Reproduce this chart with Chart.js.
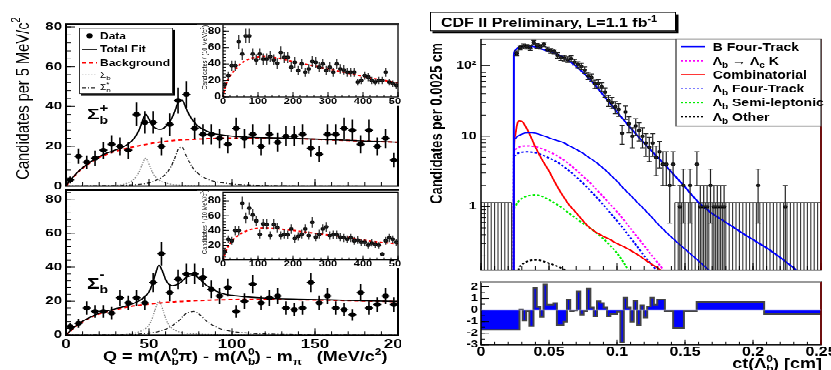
<!DOCTYPE html>
<html>
<head>
<meta charset="utf-8">
<title>Sigma_b signals and Lambda_b ct</title>
<script src="https://cdn.jsdelivr.net/npm/chart.js@4.4.1/dist/chart.umd.min.js"></script>
<style>
    html, body { margin: 0; padding: 0; background: #fff; overflow: hidden; }
    #page { position: relative; width: 831px; height: 481px; transform-origin: 0 0; }
    #leftFig { position: absolute; left: 0; top: 0; width: 401px; height: 481px; overflow: hidden; }
    canvas { position: absolute; }
</style>
</head>
<body>
<div id="page">
    <div id="leftFig">
        <canvas id="plusMain"></canvas>
        <canvas id="plusInset"></canvas>
        <canvas id="minusMain"></canvas>
        <canvas id="minusInset"></canvas>
    </div>
    <canvas id="ctMain"></canvas>
    <canvas id="ctPull"></canvas>
</div>
<script>
// --- DATA: Sigma_b panels, 5 MeV/c^2 bins ---

const qCenters = [2.5, 7.5, 12.5, 17.5, 22.5, 27.5, 32.5, 37.5, 42.5, 47.5, 52.5, 57.5, 62.5, 67.5, 72.5, 77.5, 82.5, 87.5, 92.5, 97.5,
    102.5, 107.5, 112.5, 117.5, 122.5, 127.5, 132.5, 137.5, 142.5, 147.5, 152.5, 157.5, 162.5, 167.5, 172.5, 177.5, 182.5, 187.5, 192.5, 197.5]
const plusCounts = [3, 15, 12, 14, 18, 21, 20, 18, 36, 32, 32, 20, 31, 43, 46, 29, 26, 26, 24, 21,
    29, 24, 26, 20, 26, 22, 25, 25, 26, 19, 16, 26, 26, 29, 28, 21, 28, 20, 24, 13]
const minusCounts = [5, 7, 16, 14, 14, 13, 22, 19, 22, 19, 31, 48, 25, 33, 36, 36, 34, 27, 23, 28,
    14, 20, 30, 19, 22, 23, 16, 15, 16, 31, 19, 23, 16, 15, 12, 25, 16, 18, 23, 18]

// fit curves
const fitQ = [0, 5, 10, 15, 20, 25, 30, 35, 38, 41, 44, 46, 48, 50, 52, 54, 56, 58, 60, 62, 64, 66, 68, 70, 72, 74, 77, 80, 85, 90, 95, 100, 110, 120, 140, 160, 180, 200]
const plusBackground = [0, 5, 9, 12, 14.5, 16.2, 17.5, 18.6, 19.2, 19.8, 20.3, 20.6, 20.9, 21.2, 21.5, 21.8, 22, 22.2, 22.4, 22.6,
    22.8, 23, 23.1, 23.2, 23.3, 23.4, 23.5, 23.6, 23.8, 23.9, 24, 24, 24, 24, 23.8, 23.2, 22.6, 22]
const plusSigmaB = [0.1, 0.1, 0.1, 0.1, 0.2, 0.2, 0.3, 0.9, 1.8, 3.5, 7, 11, 14, 11, 7, 4.5, 3, 2, 1.5, 1.1,
    0.8, 0.6, 0.5, 0.4, 0.35, 0.3, 0.25, 0.2, 0.15, 0.1, 0.1, 0.1, 0, 0, 0, 0, 0, 0]
const plusSigmaBStar = [0.1, 0.1, 0.1, 0.15, 0.2, 0.25, 0.3, 0.4, 0.5, 0.6, 0.8, 1, 1.2, 1.5, 2, 2.8, 3.5, 4.5, 6, 8,
    11, 15, 19, 19.5, 16, 12.5, 8.5, 6, 3.5, 2.2, 1.5, 1, 0.5, 0.3, 0.1, 0.1, 0, 0]
const plusTotalFit = [0.3, 5.2, 9.2, 12.3, 14.9, 16.7, 18.1, 19.9, 21.5, 23.9, 28.1, 32.6, 36.1, 33.7, 30.5, 29.1, 28.5, 28.7, 29.9, 31.7,
    34.6, 38.6, 42.6, 43.1, 39.7, 36.2, 32.3, 29.8, 27.5, 26.2, 25.6, 25.1, 24.5, 24.3, 23.9, 23.3, 22.6, 22]
const minusBackground = [0, 4.5, 8, 10.5, 12.5, 14, 15.2, 16.2, 16.7, 17.2, 17.6, 17.9, 18.1, 18.3, 18.5, 18.7, 18.9, 19.1, 19.3, 19.4,
    19.6, 19.7, 19.8, 19.9, 20, 20.1, 20.3, 20.4, 20.6, 20.8, 20.9, 21, 21.1, 21.1, 20.9, 20.6, 20.2, 19.8]
const minusSigmaB = [0.1, 0.1, 0.1, 0.1, 0.15, 0.2, 0.25, 0.3, 0.8, 1.2, 2, 2.8, 4, 6, 10, 16, 20, 16, 10, 6,
    4, 2.8, 2, 1.5, 1.2, 1, 0.8, 0.6, 0.4, 0.3, 0.2, 0.2, 0.1, 0, 0, 0, 0, 0]
const minusSigmaBStar = [0.1, 0.1, 0.1, 0.15, 0.2, 0.2, 0.25, 0.3, 0.3, 0.4, 0.6, 0.8, 1, 1.2, 1.5, 1.8, 2.2, 2.8, 3.5, 4.5,
    5.5, 7, 8.5, 10.5, 12.5, 13.5, 14, 12.5, 8, 5, 3.2, 2.2, 1.2, 0.7, 0.3, 0.2, 0.1, 0.1]
const minusTotalFit = [0.2, 4.7, 8.2, 10.7, 12.9, 14.4, 15.7, 16.8, 17.8, 18.8, 20.2, 21.5, 23.1, 25.5, 30, 36.5, 41.1, 37.9, 32.8, 29.9,
    29.1, 29.5, 30.3, 31.9, 33.7, 34.6, 35.1, 33.5, 29, 26.1, 24.3, 23.4, 22.4, 21.8, 21.2, 20.8, 20.3, 19.9]

// --- DATA: insets, 10 MeV/c^2 bins ---

const insetQ = [5, 15, 25, 35, 45, 55, 65, 75, 85, 95, 105, 115, 125, 135, 145, 155, 165, 175, 185, 195,
    205, 215, 225, 235, 245, 255, 265, 275, 285, 295, 305, 315, 325, 335, 345, 355, 365, 375, 385, 395,
    405, 415, 425, 435, 445, 455, 465, 475, 485, 495]
const insetPlusCounts = [15, 26, 38, 38, 67, 52, 74, 74, 52, 45, 52, 46, 46, 49, 45, 41, 54, 48, 48, 36,
    42, 32, 40, 30, 34, 43, 42, 36, 40, 32, 36, 30, 40, 34, 33, 30, 30, 30, 18, 20,
    26, 24, 20, 18, 20, 20, 30, 18, 16, 14]
const insetMinusCounts = [11, 28, 26, 40, 40, 77, 57, 70, 61, 53, 35, 49, 48, 33, 48, 44, 33, 35, 34, 42,
    29, 32, 35, 42, 33, 51, 31, 35, 42, 45, 33, 34, 34, 31, 30, 28, 30, 26, 27, 24,
    24, 20, 23, 21, 20, 8, 26, 30, 28, 24]
const insetFitQ = [0, 5, 10, 20, 30, 40, 50, 60, 80, 100, 120, 150, 200, 250, 300, 350, 400, 450, 500]
const insetPlusBackground = [0, 10, 17, 25, 31, 36, 40, 43, 47, 48.5, 49, 47.5, 43, 38.5, 34, 29.5, 25, 21, 17]
const insetMinusBackground = [0, 8, 14, 22, 28, 32, 35.5, 38, 41.5, 43, 43.5, 42.5, 40, 37, 34, 31, 27, 24, 22]

// --- DATA: Lambda_b ct, 0.0025 cm bins (empty bins left out) ---

const ctCenters = [0.02625, 0.02875, 0.03125, 0.03375, 0.03625, 0.03875, 0.04125, 0.04375, 0.04625, 0.04875,
    0.05125, 0.05375, 0.05625, 0.05875, 0.06125, 0.06375, 0.06625, 0.06875, 0.07125, 0.07375,
    0.07625, 0.07875, 0.08125, 0.08375, 0.08625, 0.08875, 0.09125, 0.09375, 0.09625, 0.09875,
    0.10125, 0.10375, 0.10625, 0.10875, 0.11125, 0.11375, 0.11625, 0.11875, 0.12125, 0.12375,
    0.12625, 0.12875, 0.13125, 0.13375, 0.13625, 0.13875, 0.14125, 0.14625, 0.14875, 0.15375,
    0.15875, 0.16125, 0.16375, 0.16625, 0.16875, 0.17125, 0.17375, 0.17625, 0.17875, 0.20375, 0.22375]
const ctCounts = [150, 182, 190, 186, 178, 214, 192, 186, 200, 170,
    163, 160, 140, 130, 128, 122, 126, 112, 104, 98,
    87, 72, 68, 55, 56, 50, 42, 32, 30, 26,
    24, 11, 22, 15, 10, 14, 12, 10, 8, 7,
    8, 5, 6, 4, 4, 2, 4, 1, 2, 2,
    4, 1, 1, 1, 2, 1, 1, 1, 1, 2, 1]

// fit components
const ctGrid = [0.024, 0.0242, 0.025, 0.0265, 0.028, 0.03, 0.0325, 0.035, 0.0375, 0.04, 0.045, 0.05, 0.055, 0.06, 0.065,
    0.07, 0.075, 0.08, 0.085, 0.09, 0.095, 0.1, 0.105, 0.11, 0.115, 0.12, 0.125, 0.13, 0.14, 0.15,
    0.16, 0.17, 0.18, 0.19, 0.2, 0.21, 0.22, 0.23, 0.24]
const ctTotalFit = [0.05, 140, 165, 176, 182, 186, 189, 190, 188, 184, 172, 160, 148, 133, 116,
    98, 80, 64, 50, 38, 29, 22, 17, 13, 10.2, 8, 6.3, 5, 3.1, 1.9,
    1.15, 0.8, 0.6, 0.45, 0.34, 0.26, 0.19, 0.135, 0.095]
const bFourTrack = [0.05, 8.5, 9.2, 9.8, 10.3, 10.7, 11.1, 11.2, 11.2, 11, 10.3, 9.5, 8.8, 8.2, 7.3,
    6.5, 5.7, 4.9, 4.2, 3.5, 2.85, 2.3, 1.8, 1.45, 1.15, 0.92, 0.73, 0.57, 0.37, 0.25,
    0.17, 0.115, 0.08, null, null, null, null, null, null]
const lbToLcK = [0.05, 5.8, 6.4, 6.8, 7, 7.2, 7.3, 7.3, 7.2, 7.1, 6.6, 6, 5.4, 4.7, 4,
    3.3, 2.7, 2.2, 1.75, 1.38, 1.08, 0.85, 0.65, 0.49, 0.37, 0.28, 0.21, 0.16, 0.09, null,
    null, null, null, null, null, null, null, null, null]
const combinatorial = [0.05, 5, 10, 14.5, 16.5, 16.3, 14, 11.5, 9, 7, 4.6, 3.2, 2.1, 1.45, 1.05,
    0.82, 0.63, 0.5, 0.43, 0.38, 0.34, 0.3, 0.27, 0.24, 0.21, 0.18, 0.155, 0.135, 0.1, null,
    null, null, null, null, null, null, null, null, null]
const lbFourTrack = [0.05, 4.8, 5.3, 5.6, 5.8, 5.9, 6, 6, 5.9, 5.8, 5.4, 4.9, 4.4, 3.8, 3.2,
    2.65, 2.15, 1.72, 1.36, 1.06, 0.82, 0.63, 0.48, 0.36, 0.27, 0.2, 0.155, 0.12, 0.07, null,
    null, null, null, null, null, null, null, null, null]
const lbSemiLeptonic = [0.05, 0.9, 1, 1.12, 1.22, 1.3, 1.38, 1.43, 1.46, 1.47, 1.4, 1.25, 1.1, 0.95, 0.8,
    0.68, 0.58, 0.5, 0.42, 0.35, 0.28, 0.22, 0.16, 0.11, null, null, null, null, null, null,
    null, null, null, null, null, null, null, null, null]
const lbOther = [null, null, null, 0.1, 0.135, 0.15, 0.162, 0.17, 0.174, 0.175, 0.17, 0.158, 0.145, 0.132, 0.12,
    null, null, null, null, null, null, null, null, null, null, null, null, null, null, null,
    null, null, null, null, null, null, null, null, null]

// hatched empty-bin regions
const ctBinWidth = 0.0025
const hatchLevel = 1.15
const hatchRanges = [[0, 0.0225], [0.1425, 0.25]]

// fit residuals, variable bins
const pullEdges = [0, 0.0283, 0.0307, 0.0332, 0.0356, 0.0386, 0.041, 0.0435, 0.046, 0.0484, 0.0533, 0.0558, 0.0607, 0.0632, 0.0656,
    0.0681, 0.0705, 0.073, 0.0755, 0.0779, 0.0804, 0.0829, 0.0853, 0.0878, 0.0902, 0.0927, 0.0951, 0.1, 0.1025, 0.105,
    0.1074, 0.1099, 0.1123, 0.1148, 0.1173, 0.1197, 0.1222, 0.1246, 0.1271, 0.1296, 0.1352, 0.1413, 0.1492, 0.1586, 0.2082, 0.25]
const pullValues = [-1.7, 0.05, -0.9, -0.1, -1.4, 1.9, 0.25, -0.6, 2.2, 0.45, 0.6, -1.3, -1, 0.9, -0.1,
    -0.05, 1.6, -0.4, -0.1, 1.85, 0.2, -0.55, 0.75, 0.6, 0.2, -0.55, -0.35, -0.15, -2.8, 1.05,
    0.2, -1, 0.8, -1.3, 0.4, -0.65, 0.3, 1.05, 0.45, 0.9, -0.1, -1.55, -0.1, 0.7, -0.35]

// --- AXIS TICKS ---

const qTicks = [0, 50, 100, 150, 200]
const countTicks = [0, 20, 40, 60, 80]
const insetQTicks = [0, 100, 200, 300, 400, 500]
const ctTicks = [0, 0.05, 0.1, 0.15, 0.2, 0.25]
const logTicks = [1, 10, 100]
const pullTicks = [-3, -2, -1, 0, 1, 2]

// --- LAYOUT HELPERS ---

// the picture is squashed vertically, so everything is laid out taller and scaled back
const S = 0.77
const u = y => y / S
const FONT = "'Liberation Sans', Arial, Helvetica, sans-serif"
document.getElementById('page').style.transform = `scaleY(${S})`
Chart.defaults.font.family = FONT

function font(size, bold){
    return (bold ? 'bold ' : '') + size + 'px ' + FONT
}

// text with sub/superscripts: parts = [{t, s, b, dy, stay}]
function rich(ctx, x, y, parts, align){
    let total = 0
    parts.forEach(p => {
        ctx.font = font(p.s, p.b)
        p.w = ctx.measureText(p.t).width
        if (!p.stay) total += p.w
    })
    let cx = x
    if (align === 'right') cx = x - total
    if (align === 'center') cx = x - total / 2
    parts.forEach(p => {
        ctx.font = font(p.s, p.b)
        ctx.fillText(p.t, cx, y + (p.dy || 0))
        if (!p.stay) cx += p.w
    })
}

function vtext(ctx, x, y, parts){
    ctx.save()
    ctx.translate(x, y)
    ctx.rotate(-Math.PI / 2)
    rich(ctx, 0, 0, parts, 'center')
    ctx.restore()
}

function sample(ctx, x0, x1, y, color, width, dash){
    ctx.save()
    ctx.strokeStyle = color
    ctx.lineWidth = width
    ctx.setLineDash(dash || [])
    ctx.beginPath()
    ctx.moveTo(x0, y)
    ctx.lineTo(x1, y)
    ctx.stroke()
    ctx.restore()
}

function textSetup(ctx){
    ctx.fillStyle = '#000'
    ctx.textAlign = 'left'
    ctx.textBaseline = 'alphabetic'
}

// --- PLUGINS ---

// ROOT style frame with inward ticks
const rootFrame = {
    id: 'rootFrame',
    afterDatasetsDraw(chart, args, o){
        const { ctx, chartArea: a, scales: { x, y } } = chart
        ctx.save()
        ctx.strokeStyle = '#000'
        ctx.lineWidth = 1
        ctx.beginPath()
        const xTicks = (step, len) => {
            for (let v = Math.ceil(x.min / step - 1e-6) * step; v <= x.max + 1e-9; v += step) {
                const px = x.getPixelForValue(v)
                ctx.moveTo(px, a.bottom)
                ctx.lineTo(px, a.bottom - len)
            }
        }
        const yTick = (v, len) => {
            const py = y.getPixelForValue(v)
            ctx.moveTo(a.left, py)
            ctx.lineTo(a.left + len, py)
        }
        xTicks(o.xMinor, o.xLen[1])
        xTicks(o.xMajor, o.xLen[0])
        if (o.logY) {
            for (let d = -1; d <= 2; d++) {
                for (let m = 1; m < 10; m++) {
                    const v = m * Math.pow(10, d)
                    if (v >= y.min && v <= y.max) yTick(v, m === 1 ? o.yLen[0] : o.yLen[1])
                }
            }
        } else {
            for (let v = Math.ceil(y.min / o.yMinor - 1e-6) * o.yMinor; v <= y.max + 1e-9; v += o.yMinor) yTick(v, o.yLen[1])
            for (let v = Math.ceil(y.min / o.yMajor - 1e-6) * o.yMajor; v <= y.max + 1e-9; v += o.yMajor) yTick(v, o.yLen[0])
        }
        ctx.stroke()

        ctx.lineWidth = o.width
        ctx.strokeRect(a.left, a.top, a.right - a.left, a.bottom - a.top)
        if (o.topColor) {
            ctx.strokeStyle = o.topColor
            ctx.lineWidth = o.width + 0.5
            ctx.beginPath()
            ctx.moveTo(a.left, a.top)
            ctx.lineTo(a.right, a.top)
            ctx.stroke()
        }
        if (o.rightColor) {
            ctx.strokeStyle = o.rightColor
            ctx.lineWidth = o.width
            ctx.beginPath()
            ctx.moveTo(a.right, a.top)
            ctx.lineTo(a.right, a.bottom)
            ctx.stroke()
        }
        ctx.restore()
    }
}

// sqrt(N) error bars for datasets that carry an errorBars setting
const errorBars = {
    id: 'errorBars',
    afterDatasetsDraw(chart){
        const { ctx, chartArea: a, scales: { x, y } } = chart
        ctx.save()
        ctx.beginPath()
        ctx.rect(a.left, a.top, a.right - a.left, a.bottom - a.top)
        ctx.clip()
        chart.data.datasets.forEach(ds => {
            const eb = ds.errorBars
            if (!eb) return
            ctx.strokeStyle = eb.color
            ctx.lineWidth = eb.width
            ctx.beginPath()
            ds.data.forEach(p => {
                const err = Math.sqrt(p.y)
                const px = x.getPixelForValue(p.x)
                const py = y.getPixelForValue(p.y)
                const top = y.getPixelForValue(p.y + err)
                const low = p.y - err
                const bottom = low > y.min ? y.getPixelForValue(low) : a.bottom + 2
                ctx.moveTo(px, top)
                ctx.lineTo(px, bottom)
                ctx.moveTo(x.getPixelForValue(p.x - eb.half), py)
                ctx.lineTo(x.getPixelForValue(p.x + eb.half), py)
                if (eb.cap) {
                    ctx.moveTo(px - eb.cap, top)
                    ctx.lineTo(px + eb.cap, top)
                    if (low > y.min) {
                        ctx.moveTo(px - eb.cap, bottom)
                        ctx.lineTo(px + eb.cap, bottom)
                    }
                }
            })
            ctx.stroke()
        })
        ctx.restore()
    }
}

// vertical hatching over the empty-bin regions of the ct plot
const hatch = {
    id: 'hatch',
    beforeDatasetsDraw(chart){
        const { ctx, chartArea: a, scales: { x, y } } = chart
        const top = y.getPixelForValue(hatchLevel)
        ctx.save()
        ctx.beginPath()
        ctx.rect(a.left, a.top, a.right - a.left, a.bottom - a.top)
        ctx.clip()
        ctx.strokeStyle = '#333'
        ctx.lineWidth = 1.1
        ctx.beginPath()
        hatchRanges.forEach(([lo, hi]) => {
            for (let v = lo; v <= hi + 1e-9; v += ctBinWidth) {
                const px = x.getPixelForValue(v)
                ctx.moveTo(px, a.bottom)
                ctx.lineTo(px, top)
            }
            ctx.moveTo(x.getPixelForValue(lo), top)
            ctx.lineTo(x.getPixelForValue(hi), top)
        })
        ctx.stroke()
        ctx.restore()
    }
}

function drawLeftLegend(ctx){
    const x0 = 79, x1 = 173, y0 = u(28), y1 = u(94)
    ctx.fillStyle = '#000'
    ctx.fillRect(x0 + 2, y0 + 2.5, x1 - x0, y1 - y0)
    ctx.fillStyle = '#fff'
    ctx.fillRect(x0, y0, x1 - x0, y1 - y0)
    ctx.strokeStyle = '#333'
    ctx.lineWidth = 1
    ctx.strokeRect(x0 + 0.5, y0 + 0.5, x1 - x0 - 1, y1 - y0 - 1)

    const rows = [u(35.7), u(49.3), u(62.7), u(75), u(87.7)]
    ctx.fillStyle = '#000'
    ctx.beginPath()
    ctx.arc(89.5, rows[0], 3.2, 0, 2 * Math.PI)
    ctx.fill()
    sample(ctx, 82, 97, rows[1], '#000', 1.6)
    sample(ctx, 82, 97, rows[2], '#ff0000', 2, [4, 3])
    sample(ctx, 82, 97, rows[3], '#888', 1.3, [1.5, 1.5])
    sample(ctx, 82, 97, rows[4], '#222', 1.3, [4, 2, 1, 2])

    textSetup(ctx)
    rich(ctx, 100, rows[0] + 4.3, [{ t: 'Data', s: 12, b: true }])
    rich(ctx, 100, rows[1] + 4.3, [{ t: 'Total Fit', s: 12, b: true }])
    rich(ctx, 100, rows[2] + 4.3, [{ t: 'Background', s: 12, b: true }])
    rich(ctx, 100, rows[3] + 3.5, [{ t: 'Σ', s: 10 }, { t: 'b', s: 8, dy: 3 }])
    rich(ctx, 100, rows[4] + 3.5, [{ t: 'Σ', s: 10 }, { t: 'b', s: 8, dy: 3, stay: true }, { t: '*', s: 8, dy: -5 }])
}

function drawCtLegend(ctx){
    const x0 = 261, x1 = 406, y0 = u(39), y1 = u(126)
    ctx.fillStyle = '#fff'
    ctx.fillRect(x0, y0, x1 - x0, y1 - y0)
    ctx.strokeStyle = '#555'
    ctx.lineWidth = 1.5
    ctx.strokeRect(x0, y0, x1 - x0, y1 - y0)

    const entries = [
        { color: '#0000ff', dash: [], parts: [{ t: 'B Four-Track' }] },
        { color: '#ff00ff', dash: [2, 2], parts: [{ t: 'Λ' }, { t: 'b', sub: true }, { t: ' → Λ' }, { t: 'c', sub: true }, { t: ' K' }] },
        { color: '#ff0000', dash: [], parts: [{ t: 'Combinatorial' }] },
        { color: '#0000ff', dash: [2, 2], parts: [{ t: 'Λ' }, { t: 'b', sub: true }, { t: ' Four-Track' }] },
        { color: '#00ee00', dash: [2, 2], parts: [{ t: 'Λ' }, { t: 'b', sub: true }, { t: ' Semi-leptonic' }] },
        { color: '#000', dash: [2, 2], parts: [{ t: 'Λ' }, { t: 'b', sub: true }, { t: ' Other' }] }
    ]
    entries.forEach((e, i) => {
        const cy = u(46.7 + 14 * i)
        sample(ctx, 266, 290, cy, e.color, 1.6, e.dash)
        textSetup(ctx)
        rich(ctx, 297.7, cy + 5, e.parts.map(p => p.sub ? { t: p.t, s: 10, b: true, dy: 4 } : { t: p.t, s: 14, b: true }))
    })
}

// --- CHART HELPERS ---

function makeChart(id, box, config){
    const canvas = document.getElementById(id)
    canvas.width = box.w
    canvas.height = box.h
    canvas.style.left = box.x + 'px'
    canvas.style.top = box.y + 'px'
    canvas.style.width = box.w + 'px'
    canvas.style.height = box.h + 'px'
    return new Chart(canvas, config)
}

function xAxis(o){
    return {
        type: 'linear', min: o.min, max: o.max,
        grid: { display: false, drawTicks: false },
        border: { display: false },
        afterBuildTicks: s => { s.ticks = o.ticks.map(v => ({ value: v })) },
        afterFit: s => { s.height = o.height },
        ticks: {
            display: o.show, padding: o.pad || 0, maxRotation: 0, autoSkip: false, color: '#000',
            font: { family: FONT, size: o.size || 12, weight: 'bold' },
            callback: v => String(v)
        }
    }
}

function yAxis(o){
    return {
        type: o.log ? 'logarithmic' : 'linear', min: o.min, max: o.max,
        grid: { display: false, drawTicks: false },
        border: { display: false },
        afterBuildTicks: s => { s.ticks = o.ticks.map(v => ({ value: v })) },
        afterFit: s => { s.width = o.width },
        ticks: {
            padding: o.pad, autoSkip: false, color: '#000',
            font: { family: FONT, size: o.size, weight: 'bold' },
            callback: o.label || (v => String(v))
        }
    }
}

function options(padding, x, y, frame){
    return {
        responsive: false,
        animation: false,
        devicePixelRatio: 1,
        events: [],
        layout: { padding },
        plugins: { legend: { display: false }, tooltip: { enabled: false }, rootFrame: frame },
        scales: { x, y }
    }
}

function pointsSet(xs, ys, radius, eb){
    return {
        data: xs.map((v, i) => ({ x: v, y: ys[i] })),
        showLine: false,
        pointRadius: radius,
        pointBackgroundColor: '#000',
        pointBorderWidth: 0,
        errorBars: eb
    }
}

function curveSet(xs, ys, color, width, dash){
    return {
        data: xs.map((v, i) => ({ x: v, y: ys[i] })),
        borderColor: color,
        borderWidth: width,
        borderDash: dash || [],
        pointRadius: 0,
        fill: false,
        spanGaps: false,
        cubicInterpolationMode: 'monotone'
    }
}

// --- LEFT FIGURE: Sigma_b+ ---

const plusBox = { x: 0, y: 0, w: 420, h: Math.ceil(u(186) + 14) }

const plusDecor = {
    id: 'plusDecor',
    afterDraw(chart){
        const ctx = chart.ctx
        ctx.save()
        textSetup(ctx)
        vtext(ctx, 29, u(98.5), [{ t: 'Candidates per 5 MeV/c', s: 19 }, { t: '2', s: 12, dy: -9 }])
        rich(ctx, 87, u(119.5), [
            { t: 'Σ', s: 21, b: true },
            { t: 'b', s: 14, b: true, dy: 6, stay: true },
            { t: '+', s: 15, b: true, dy: -10 }
        ])
        drawLeftLegend(ctx)
        ctx.restore()
    }
}

makeChart('plusMain', plusBox, {
    type: 'line',
    data: { datasets: [
        pointsSet(qCenters, plusCounts, 3.2, { half: 2.5, width: 1.6, color: '#000' }),
        curveSet(fitQ, plusTotalFit, '#000', 1.6),
        curveSet(fitQ, plusBackground, '#ff0000', 2, [4, 3]),
        curveSet(fitQ, plusSigmaB, '#888', 1.3, [1.5, 1.5]),
        curveSet(fitQ, plusSigmaBStar, '#222', 1.3, [4, 2, 1, 2])
    ]},
    options: options(
        { top: u(24), right: 22, left: 0, bottom: 0 },
        xAxis({ min: 0, max: 200, ticks: qTicks, height: plusBox.h - u(186), show: false }),
        yAxis({ min: 0, max: 81.5, ticks: countTicks, width: 66, size: 15, pad: 4 }),
        { xMajor: 50, xMinor: 10, yMajor: 20, yMinor: 4, xLen: [9, 5], yLen: [9, 5], width: 2 }
    ),
    plugins: [rootFrame, errorBars, plusDecor]
})

// --- LEFT FIGURE: Sigma_b- ---

const minusBox = { x: 0, y: u(190) - 15, w: 420, h: 249 }

const minusDecor = {
    id: 'minusDecor',
    afterDraw(chart){
        const ctx = chart.ctx
        const top = minusBox.y
        ctx.save()
        textSetup(ctx)
        rich(ctx, 87, u(288.5) - top, [
            { t: 'Σ', s: 21, b: true },
            { t: 'b', s: 14, b: true, dy: 6.5, stay: true },
            { t: '-', s: 15, b: true, dy: -14 }
        ])
        rich(ctx, 103, u(361) - top, [
            { t: 'Q = m(Λ', s: 18, b: true },
            { t: 'b', s: 12, b: true, dy: 5, stay: true },
            { t: '0', s: 12, b: true, dy: -8 },
            { t: 'π) - m(Λ', s: 18, b: true },
            { t: 'b', s: 12, b: true, dy: 5, stay: true },
            { t: '0', s: 12, b: true, dy: -8 },
            { t: ') - m', s: 18, b: true },
            { t: 'π', s: 12, b: true, dy: 5 },
            { t: '   (MeV/c', s: 18, b: true },
            { t: '2', s: 12, b: true, dy: -8 },
            { t: ')', s: 18, b: true }
        ])
        ctx.restore()
    }
}

makeChart('minusMain', minusBox, {
    type: 'line',
    data: { datasets: [
        pointsSet(qCenters, minusCounts, 3.2, { half: 2.5, width: 1.6, color: '#000' }),
        curveSet(fitQ, minusTotalFit, '#000', 1.6),
        curveSet(fitQ, minusBackground, '#ff0000', 2, [4, 3]),
        curveSet(fitQ, minusSigmaB, '#888', 1.3, [1.5, 1.5]),
        curveSet(fitQ, minusSigmaBStar, '#222', 1.3, [4, 2, 1, 2])
    ]},
    options: options(
        { top: 15, right: 22, left: 0, bottom: 0 },
        xAxis({ min: 0, max: 200, ticks: qTicks, height: minusBox.h - (u(335) - minusBox.y), show: true, size: 17, pad: 1.5 }),
        yAxis({ min: 0, max: 85.3, ticks: countTicks, width: 66, size: 15, pad: 4 }),
        { xMajor: 50, xMinor: 10, yMajor: 20, yMinor: 4, xLen: [9, 5], yLen: [9, 5], width: 2 }
    ),
    plugins: [rootFrame, errorBars, minusDecor]
})

// --- LEFT FIGURE: insets ---

function insetDecor(id, box, boxTop, boxBottom, titleY){
    return {
        id,
        beforeDraw(chart){
            const ctx = chart.ctx
            ctx.save()
            ctx.fillStyle = '#fff'
            ctx.fillRect(0, boxTop - box.y, chart.width, boxBottom - boxTop)
            ctx.restore()
        },
        afterDraw(chart){
            const ctx = chart.ctx
            ctx.save()
            textSetup(ctx)
            vtext(ctx, 10, titleY - box.y, [{ t: 'Candidates / (10 MeV/c', s: 7.5 }, { t: '2', s: 5, dy: -3.5 }, { t: ')', s: 7.5 }])
            ctx.restore()
        }
    }
}

function makeInset(id, box, plotTop, plotBottom, yMax, counts, background, decor){
    makeChart(id, box, {
        type: 'line',
        data: { datasets: [
            pointsSet(insetQ, counts, 2.4, { half: 5, width: 1.2, color: '#222' }),
            curveSet(insetFitQ, background, '#ff0000', 2, [3, 2.5])
        ]},
        options: options(
            { top: plotTop - box.y, right: box.w - (398 - box.x), left: 0, bottom: 0 },
            xAxis({ min: 0, max: 500, ticks: insetQTicks, height: box.h - (plotBottom - box.y), show: true, size: 11, pad: -1 }),
            yAxis({ min: 0, max: yMax, ticks: countTicks, width: 223 - box.x, size: 12, pad: 2 }),
            { xMajor: 100, xMinor: 20, yMajor: 20, yMinor: 4, xLen: [6, 3], yLen: [6, 3], width: 1.3 }
        ),
        plugins: [decor, rootFrame, errorBars]
    })
}

const plusInsetBox = { x: 197, y: 20, w: 220, h: 120 }
makeInset('plusInset', plusInsetBox, u(25), u(97), 87.3, insetPlusCounts, insetPlusBackground,
    insetDecor('plusInsetDecor', plusInsetBox, u(24.5), u(106), u(57.5)))

const minusInsetBox = { x: 197, y: 236, w: 220, h: 116 }
makeInset('minusInset', minusInsetBox, u(192), u(260), 92.2, insetMinusCounts, insetMinusBackground,
    insetDecor('minusInsetDecor', minusInsetBox, u(190.8), u(268), u(222)))

// --- RIGHT FIGURE: ct distribution ---

const ctBox = { x: 415, y: 0, w: 432, h: Math.ceil(u(270) + 14) }

const ctDecor = {
    id: 'ctDecor',
    afterDraw(chart){
        const ctx = chart.ctx
        ctx.save()
        const tx0 = 15, tx1 = 261, ty0 = u(12), ty1 = u(31)
        ctx.fillStyle = '#000'
        ctx.fillRect(tx0 + 2.5, ty0 + 3, tx1 - tx0, ty1 - ty0)
        ctx.fillStyle = '#fff'
        ctx.fillRect(tx0, ty0, tx1 - tx0, ty1 - ty0)
        ctx.strokeStyle = '#000'
        ctx.lineWidth = 1
        ctx.strokeRect(tx0 + 0.5, ty0 + 0.5, tx1 - tx0 - 1, ty1 - ty0 - 1)
        textSetup(ctx)
        rich(ctx, 26, u(27.3), [{ t: 'CDF II Preliminary, L=1.1 fb', s: 16, b: true }, { t: '-1', s: 11, b: true, dy: -7 }])
        vtext(ctx, 27, u(123.5), [{ t: 'Candidates per 0.0025 cm', s: 17, b: true }])
        drawCtLegend(ctx)
        ctx.restore()
    }
}

makeChart('ctMain', ctBox, {
    type: 'line',
    data: { datasets: [
        pointsSet(ctCenters, ctCounts, 2.2, { half: ctBinWidth / 2, width: 1.2, color: '#222', cap: 2.5 }),
        curveSet(ctGrid, ctTotalFit, '#0000ff', 2),
        curveSet(ctGrid, bFourTrack, '#0000ff', 1.6),
        curveSet(ctGrid, lbToLcK, '#ff00ff', 2, [2.5, 2]),
        curveSet(ctGrid, combinatorial, '#ff0000', 1.8),
        curveSet(ctGrid, lbFourTrack, '#0000ff', 2, [2.5, 2]),
        curveSet(ctGrid, lbSemiLeptonic, '#00ee00', 2, [2.5, 2]),
        curveSet(ctGrid, lbOther, '#000', 2, [2.5, 2])
    ]},
    options: options(
        { top: u(39), right: ctBox.w - (821 - ctBox.x), left: 0, bottom: 0 },
        xAxis({ min: 0, max: 0.25, ticks: ctTicks, height: ctBox.h - u(270), show: false }),
        yAxis({ log: true, min: 0.1265, max: 239, ticks: logTicks, width: 66, size: 14, pad: 4.5,
            label: v => v === 100 ? '10²' : String(v) }),
        { xMajor: 0.05, xMinor: 0.01, logY: true, xLen: [9, 5], yLen: [9, 5], width: 1.5, rightColor: '#800000' }
    ),
    plugins: [hatch, rootFrame, errorBars, ctDecor]
})

// --- RIGHT FIGURE: residuals ---

const pullBox = { x: 415, y: u(282) - 14, w: 432, h: 129 }

const pullDecor = {
    id: 'pullDecor',
    afterDatasetsDraw(chart){
        const { ctx, chartArea: a, scales: { y } } = chart
        const py = y.getPixelForValue(0)
        ctx.save()
        ctx.strokeStyle = '#9a9ae6'
        ctx.lineWidth = 1.5
        ctx.beginPath()
        ctx.moveTo(a.left, py)
        ctx.lineTo(a.right, py)
        ctx.stroke()
        ctx.restore()
    },
    afterDraw(chart){
        const ctx = chart.ctx
        ctx.save()
        textSetup(ctx)
        rich(ctx, 407, u(368.5) - pullBox.y, [
            { t: 'ct(Λ', s: 18, b: true },
            { t: 'b', s: 12, b: true, dy: 5, stay: true },
            { t: '0', s: 12, b: true, dy: -8 },
            { t: ') [cm]', s: 18, b: true }
        ], 'right')
        ctx.restore()
    }
}

makeChart('ctPull', pullBox, {
    type: 'line',
    data: { datasets: [{
        data: pullEdges.map((e, i) => ({ x: e, y: pullValues[Math.min(i, pullValues.length - 1)] })),
        stepped: 'before',
        fill: { value: 0 },
        backgroundColor: '#0000ff',
        borderColor: '#444',
        borderWidth: 2,
        pointRadius: 0
    }]},
    options: options(
        { top: 14, right: pullBox.w - (821 - pullBox.x), left: 0, bottom: 0 },
        xAxis({ min: 0, max: 0.25, ticks: ctTicks, height: pullBox.h - (u(345) - pullBox.y), show: true, size: 16, pad: 0 }),
        yAxis({ min: -3, max: 2.43, ticks: pullTicks, width: 66, size: 13, pad: 3 }),
        { xMajor: 0.05, xMinor: 0.01, yMajor: 1, yMinor: 0.5, xLen: [7, 4], yLen: [8, 4], width: 1.5, topColor: '#999', rightColor: '#800000' }
    ),
    plugins: [rootFrame, pullDecor]
})
</script>
</body>
</html>
